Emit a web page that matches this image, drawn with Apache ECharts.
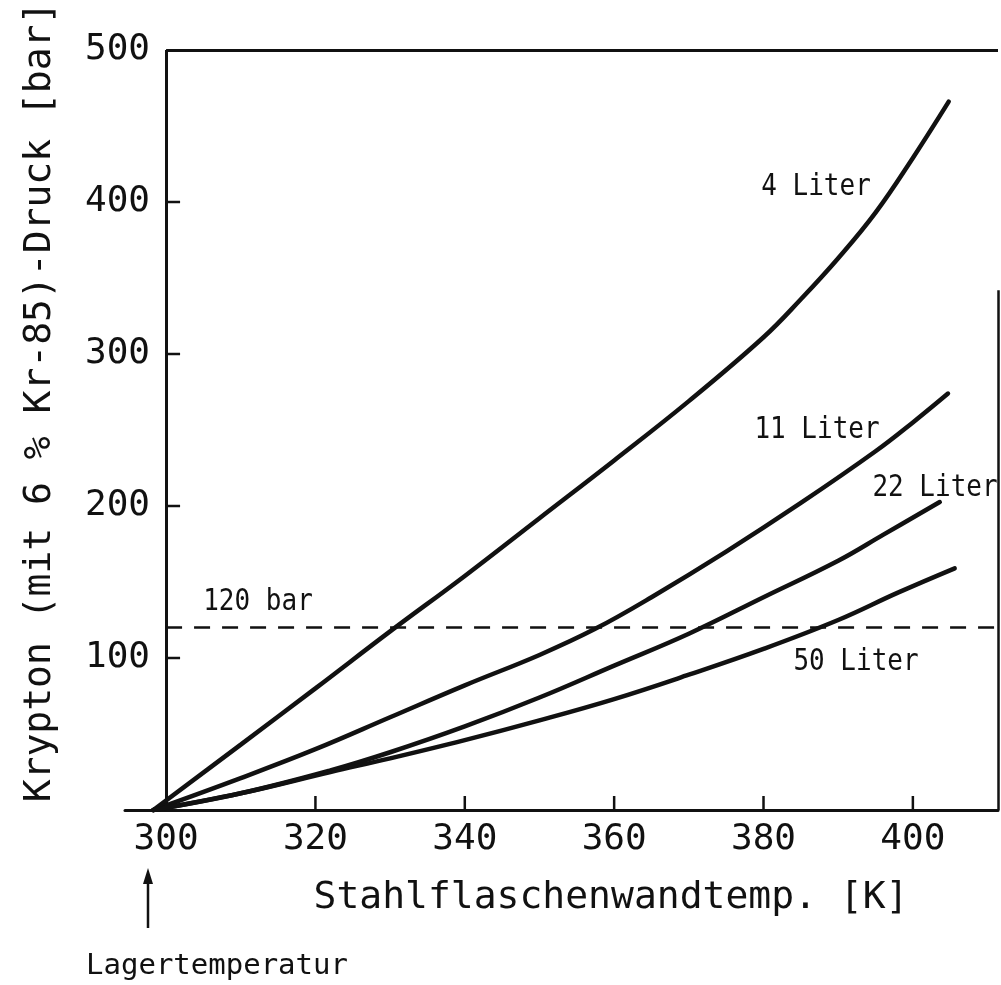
<!DOCTYPE html>
<html>
<head>
<meta charset="utf-8">
<script src="https://cdn.jsdelivr.net/npm/echarts@6/dist/echarts.min.js"></script>
<style>
html,body{margin:0;padding:0;background:#fff;}
#chart{width:1001px;height:985px;}
</style>
</head>
<body>
<div id="chart"></div>
<script>
// ---- data ----
const xTicks = [300, 320, 340, 360, 380, 400];
const yTicks = [100, 200, 300, 400, 500];

const temp4L  = [298.3, 310, 320, 330, 340, 350, 360, 370, 380, 385, 390, 395, 400, 404.8];
const druck4L = [0, 43, 80, 117.5, 154, 192, 230, 269, 311, 336, 363, 393, 429, 466];

const temp11L  = [298.3, 310, 320, 330, 340, 350, 357.4, 365, 375, 385, 395, 400, 404.7];
const druck11L = [0, 21, 40, 61, 82, 102, 119, 140, 170, 202, 236, 255, 274];

const temp22L  = [298.3, 310, 322, 330, 340, 350, 360, 370, 380, 390, 396, 403.6];
const druck22L = [0, 11, 26, 38, 55, 74, 95, 116, 140, 164, 181, 202.6];

const temp50L  = [298.3, 310, 322, 330, 340, 350, 360, 370, 380, 390, 398, 405.6];
const druck50L = [0, 11, 25, 34, 46, 59, 73, 89, 106, 125, 143, 159];

const seriesNames = ['4 Liter', '11 Liter', '22 Liter', '50 Liter'];
const limitValue = 120;
const limitLabel = '120 bar';
const xTitle = 'Stahlflaschenwandtemp. [K]';
const yTitle = 'Krypton (mit 6 % Kr-85)-Druck [bar]';
const noteText = 'Lagertemperatur';

// ---- layout ----
const X_MIN = 294.5, X_MAX = 411.4, Y_MIN = 0, Y_MAX = 500;
const FONT = '"DejaVu Sans Mono", monospace';
const INK = '#111';
const GRID = {left: 125, right: 3, top: 50, bottom: 175};
const TICK_PX = 14;

function pairs(xs, ys) { return xs.map((x, i) => [x, ys[i]]); }

const curves = [
  pairs(temp4L, druck4L),
  pairs(temp11L, druck11L),
  pairs(temp22L, druck22L),
  pairs(temp50L, druck50L)
];

const chart = echarts.init(document.getElementById('chart'), null, {renderer: 'canvas'});

const series = curves.map((d, i) => ({
  name: seriesNames[i],
  type: 'line',
  data: d,
  smooth: 0.4,
  symbol: 'none',
  clip: false,
  lineStyle: {color: INK, width: 4.5, cap: 'round'},
  z: 5
}));

// frame lines and the 120 bar limit, in data coordinates
const frameLines = [
  [{coord: [xTicks[0], Y_MIN], lineStyle: {type: 'solid', width: 3}}, {coord: [xTicks[0], Y_MAX]}],
  [{coord: [xTicks[0], Y_MAX], lineStyle: {type: 'solid', width: 3}}, {coord: [X_MAX, Y_MAX]}],
  [{coord: [X_MAX, Y_MIN], lineStyle: {type: 'solid', width: 2.5}}, {coord: [X_MAX, 342]}],
  [{coord: [xTicks[0], limitValue], lineStyle: {type: [16, 12], width: 2.5}}, {coord: [X_MAX, limitValue]}]
];

series.push({
  type: 'line',
  data: [],
  symbol: 'none',
  markLine: {
    silent: true,
    animation: false,
    symbol: ['none', 'none'],
    label: {show: false},
    emphasis: {disabled: true},
    data: frameLines,
    lineStyle: {color: INK}
  }
});

function label(text, x, y, size, sy) {
  return {type: 'text', x: x, y: y, scaleY: sy || 1,
          style: {text: text, font: size + 'px ' + FONT, fill: INK, textAlign: 'center', textVerticalAlign: 'middle'}};
}

const baseGraphics = [
  {type: 'text', x: 40, y: 402, rotation: Math.PI / 2,
   style: {text: yTitle, font: '38px ' + FONT, fill: INK, textAlign: 'center', textVerticalAlign: 'middle'}},
  label(xTitle, 611, 898, 38),
  label(noteText, 217, 966, 29),
  {type: 'line', shape: {x1: 148, y1: 928, x2: 148, y2: 878}, style: {stroke: INK, lineWidth: 2.5}},
  {type: 'polygon', shape: {points: [[148, 868], [143, 884], [153, 884]]}, style: {fill: INK}},
  label(seriesNames[0], 816, 187, 26, 1.15),
  label(seriesNames[1], 817, 430, 26, 1.15),
  label(seriesNames[2], 935, 488, 26, 1.15),
  label(seriesNames[3], 856, 662, 26, 1.15),
  label(limitLabel, 258, 602, 26, 1.15)
];

const option = {
  backgroundColor: '#fff',
  animation: false,
  grid: Object.assign({containLabel: false}, GRID),
  xAxis: {
    type: 'value',
    min: X_MIN,
    max: X_MAX,
    splitLine: {show: false},
    axisLine: {show: true, lineStyle: {color: INK, width: 3}},
    axisTick: {show: false},
    axisLabel: {customValues: xTicks, color: INK, fontFamily: FONT, fontSize: 36, margin: 12}
  },
  yAxis: {
    type: 'value',
    min: Y_MIN,
    max: Y_MAX,
    interval: 100,
    offset: -41,
    splitLine: {show: false},
    axisLine: {show: false},
    axisTick: {show: false},
    axisLabel: {
      color: INK, fontFamily: FONT, fontSize: 36, margin: 16,
      formatter: v => (v === 0 ? '' : String(v))
    }
  },
  series: series,
  graphic: baseGraphics
};
chart.setOption(option);

// inward tick marks, positioned through the chart's own scales
const tickGraphics = [];
xTicks.slice(1).forEach(t => {
  const p = chart.convertToPixel({gridIndex: 0}, [t, Y_MIN]);
  tickGraphics.push({type: 'line', z: 10,
    shape: {x1: p[0], y1: p[1], x2: p[0], y2: p[1] - TICK_PX},
    style: {stroke: INK, lineWidth: 2.5}});
});
yTicks.slice(0, -1).forEach(t => {
  const p = chart.convertToPixel({gridIndex: 0}, [xTicks[0], t]);
  tickGraphics.push({type: 'line', z: 10,
    shape: {x1: p[0], y1: p[1], x2: p[0] + TICK_PX, y2: p[1]},
    style: {stroke: INK, lineWidth: 2.5}});
});
chart.setOption({graphic: baseGraphics.concat(tickGraphics)});
</script>
</body>
</html>
